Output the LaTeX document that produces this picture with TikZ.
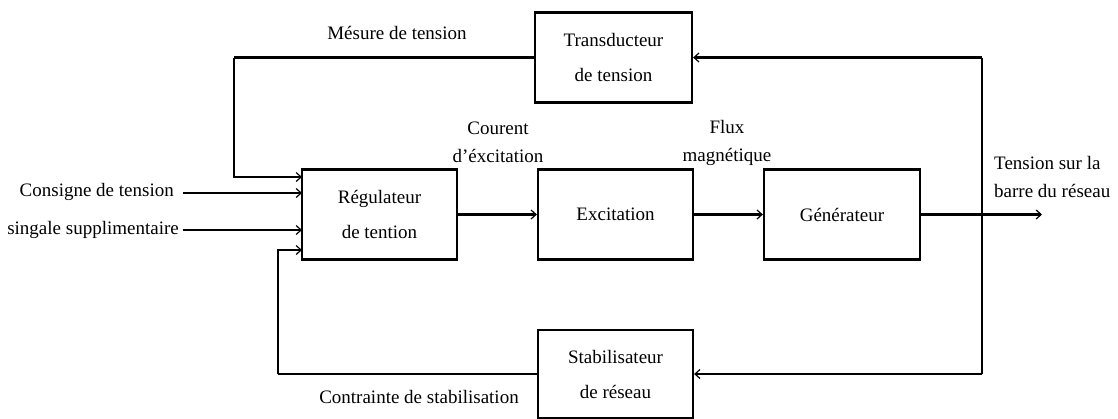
\documentclass[tikz,border=0pt]{standalone}
\usepackage{fontspec}
\setmainfont{Liberation Serif}
\usetikzlibrary{arrows.meta}
\begin{document}
\begin{tikzpicture}[x=1pt,y=-1pt,
  blk/.style={draw,line width=2.2pt,minimum width=155pt,minimum height=90pt,inner sep=0pt,align=center,font=\fontsize{19}{35}\selectfont},
  lbl/.style={inner sep=0pt,align=center,font=\fontsize{19}{28}\selectfont},
  arr/.style={line width=2.2pt,-{Straight Barb[length=5pt,width=9pt,line width=1.2pt]}},
  ln/.style={line width=2.2pt}]
\useasboundingbox (0,0) rectangle (1118,418);
% blocks
\node[blk,minimum width=157pt] (trans) at (613.5,57.5) {Transducteur\\de tension};
\node[blk] (reg) at (379.5,214.5) {Régulateur\\de tention};
\node[blk] (exc) at (615.5,214.5) {Excitation};
\node[blk,minimum width=156pt] (gen) at (842,214.5) {Générateur};
\node[blk,minimum height=88pt] (stab) at (615.5,374) {Stabilisateur\\de réseau};
% coordinates
\coordinate (tl) at (234,57.5);
\coordinate (in1) at (302,177);
\coordinate (in2) at (302,193);
\coordinate (in3) at (302,230);
\coordinate (in4) at (302,250);
\coordinate (bl) at (278,374);
\coordinate (rt) at (982,57.5);
\coordinate (rb) at (982,374);
\coordinate (out) at (1042,214.5);
% labels
\node[lbl] (mes) at (397,33) {Mésure de tension};
\node[lbl,anchor=east] (cons) at (174,192) {Consigne de tension};
\node[lbl,anchor=east] (sup) at (179,230) {singale supplimentaire};
\node[lbl] (cour) at (498,142) {Courent\\d'éxcitation};
\node[lbl] (flux) at (727,143) {Flux\\magnétique};
\node[lbl,align=left,anchor=west] (tens) at (994,177) {Tension sur la\\barre du réseau};
\node[lbl] (contr) at (419,397) {Contrainte de stabilisation};
% connectors
\draw[ln] (trans.west) -- (tl);
\draw[arr] (tl) |- (in1);
\draw[arr] (cons.east) ++(9,1) coordinate (c1) -- (in2);
\draw[arr] (sup.east) ++(4,0) coordinate (c2) -- (in3);
\draw[ln] (stab.west) -- (bl);
\draw[arr] (bl) |- (in4);
\draw[arr] (reg.east) -- (exc.west);
\draw[arr] (exc.east) -- (gen.west);
\draw[arr] (gen.east) -- (out);
\draw[ln] (rt) -- (rb);
\draw[arr] (rt) -- (trans.east);
\draw[arr] (rb) -- (stab.east);
\end{tikzpicture}
\end{document}
